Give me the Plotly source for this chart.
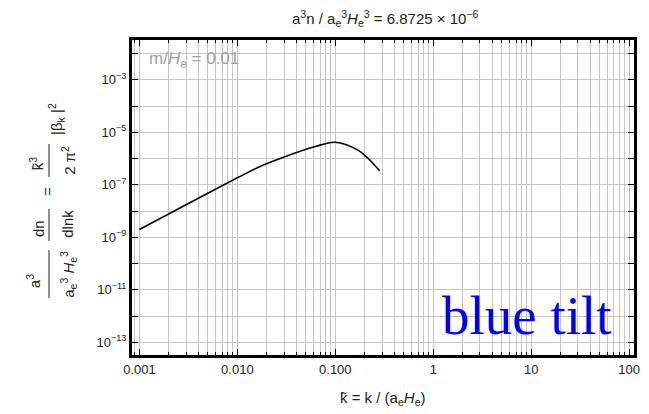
import plotly.graph_objects as go

# ---- data ----
k_vals = [0.001, 0.00316, 0.01, 0.0164, 0.0282, 0.0612, 0.1, 0.17, 0.214, 0.284]
spec_vals = [2.0e-9, 1.95e-8, 1.85e-7, 4.7e-7, 1.05e-6, 2.8e-6, 4.2e-6, 2.1e-6, 1.05e-6, 3.4e-7]

x_tick_vals = [0.001, 0.01, 0.1, 1, 10, 100]
x_tick_text = ["0.001", "0.010", "0.100", "1", "10", "100"]
y_exponents = list(range(-13, -1))
y_labeled = [-13, -11, -9, -7, -5, -3]

W, H = 649, 414
L, R, T, B = 132, 640, 40, 355  # plot frame in pixels

def px(x):
    return (x - L) / (R - L)

def py(y):
    return (B - y) / (B - T)

FONT = "Liberation Sans, Arial, sans-serif"

fig = go.Figure()
fig.add_trace(go.Scatter(
    x=k_vals, y=spec_vals, mode="lines",
    line=dict(color="black", width=1.6, shape="spline", smoothing=1.0),
    showlegend=False, hoverinfo="skip"))

y_tickvals = [10.0 ** e for e in y_exponents]
y_ticktext = [("10<sup>−%d</sup>" % (-e)) if e in y_labeled else "" for e in y_exponents]

minor_x = []
for d in range(-4, 3):
    for m in range(2, 10):
        minor_x.append(m * 10.0 ** d)

fig.update_layout(
    width=W, height=H,
    margin=dict(l=L, r=W - R, t=T, b=H - B),
    paper_bgcolor="white", plot_bgcolor="white",
    font=dict(family=FONT, size=13, color="#222"),
    xaxis=dict(
        type="log", range=[-3.076, 2.05],
        tickmode="array", tickvals=x_tick_vals, ticktext=x_tick_text,
        ticks="inside", ticklen=6, tickwidth=1, tickcolor="black",
        showgrid=True, gridcolor="#c4c4c4", gridwidth=1,
        showline=True, linecolor="black", linewidth=3, mirror="allticks",
        tickfont=dict(size=13, color="#222"),
        minor=dict(tickmode="array", tickvals=minor_x, ticks="inside", ticklen=3,
                   tickcolor="black", showgrid=True, gridcolor="#c4c4c4", gridwidth=1),
        zeroline=False,
    ),
    yaxis=dict(
        type="log", range=[-13.48, -1.484],
        tickmode="array", tickvals=y_tickvals, ticktext=y_ticktext,
        ticks="inside", ticklen=6, tickwidth=1, tickcolor="black",
        showgrid=True, gridcolor="#c4c4c4", gridwidth=1,
        showline=True, linecolor="black", linewidth=3, mirror="allticks",
        tickfont=dict(size=13, color="#222"),
        zeroline=False,
    ),
)

ann = []
def A(text, x, y, size=15, color="#222", angle=0, family=FONT, xanchor="center", yanchor="middle"):
    ann.append(dict(text=text, x=px(x), y=py(y), xref="paper", yref="paper",
                    showarrow=False, textangle=angle, xanchor=xanchor, yanchor=yanchor,
                    font=dict(size=size, color=color, family=family)))

# title
A("a<sup>3</sup>n / a<sub>e</sub><sup>3</sup><i>H</i><sub>e</sub><sup>3</sup> = 6.8725 × 10<sup>−6</sup>", 388, 18, size=15)
# x-axis title
A("k\u0303 = k / (a<sub>e</sub><i>H</i><sub>e</sub>)", 385, 398, size=15)
# in-plot labels
A("m/<i>H</i><sub>e</sub> = 0.01", 147, 60, size=17, color="#a0a0a0", xanchor="left")
A("blue tilt", 532, 315, size=55, color="#0000ff", family="Liberation Serif, Times New Roman, serif")

# y-axis title built as rotated pieces
A("a<sup>3</sup>", 32, 281, angle=-90)
A("a<sub>e</sub><sup>3</sup> <i>H</i><sub>e</sub><sup>3</sup>", 67, 274, angle=-90)
A("dn", 37, 229, angle=-90)
A("dlnk", 67, 224, angle=-90)
A("=", 47, 192, angle=-90)
A("k\u0303<sup>3</sup>", 35, 163, angle=-90)
A("2 π<sup>2</sup>", 67, 160, angle=-90)
A("|β<sub>k</sub> |<sup>2</sup>", 55, 119, angle=-90)

fig.update_layout(annotations=ann)

shapes = []
for (y0, y1) in [(250, 298), (209, 241), (144, 177)]:
    shapes.append(dict(type="line", xref="paper", yref="paper",
                       x0=px(48), x1=px(48), y0=py(y0), y1=py(y1),
                       line=dict(color="#444", width=1.2)))
fig.update_layout(shapes=shapes)

fig.write_html("out.html")
